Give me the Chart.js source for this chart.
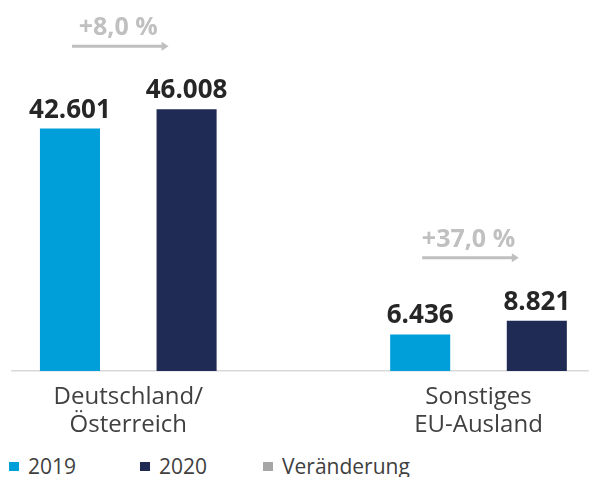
<!DOCTYPE html>
<html>
<head>
<meta charset="utf-8">
<script src="https://cdn.jsdelivr.net/npm/chart.js@4"></script>
<style>
  body { margin: 0; background: #fff; }
  #wrap { position: relative; width: 589px; height: 477px; }
  #chart { position: absolute; left: 0; top: 0; }
  #legend { position: absolute; left: 9px; top: 454px; display: flex;
            font: 21px "Open Sans", sans-serif; line-height: 24px; color: #404040; }
  #legend .item { display: flex; align-items: center; }
  #legend .item:nth-child(1) { width: 131px; }
  #legend .item:nth-child(2) { width: 123px; }
  #legend .box { width: 10px; height: 9px; margin-right: 9px; margin-top: 1px; }
</style>
</head>
<body>
<div id="wrap">
  <canvas id="chart" width="589" height="451"></canvas>
  <div id="legend"></div>
</div>
<script>
// data
const categories = [['Deutschland/', 'Österreich'], ['Sonstiges', 'EU-Ausland']];
const seriesNames = ['2019', '2020'];
const values2019 = [42601, 6436];
const values2020 = [46008, 8821];
const changeLabels = ['+8,0 %', '+37,0 %'];
const changeName = 'Veränderung';

const colors = ['#009fda', '#202b55'];
const changeColor = '#a6a6a6';

function formatNumber(v) {
    return String(v).replace(/\B(?=(\d{3})+(?!\d))/g, '.');
}

function toPoints(values) {
    return values.map((v, i) => ({ x: i, y: v }));
}

// value labels above bars + change arrows between the two years
const barLabels = {
    id: 'barLabels',
    afterDatasetsDraw(chart) {
        const ctx = chart.ctx;
        ctx.save();
        ctx.textAlign = 'center';
        ctx.textBaseline = 'alphabetic';
        ctx.font = 'bold 26px "Open Sans"';
        ctx.fillStyle = '#262626';
        chart.data.datasets.forEach((ds, di) => {
            const meta = chart.getDatasetMeta(di);
            meta.data.forEach((bar, i) => {
                ctx.fillText(formatNumber(ds.data[i].y), bar.x, bar.y - 11);
            });
        });

        const first = chart.getDatasetMeta(0).data;
        const second = chart.getDatasetMeta(1).data;
        changeLabels.forEach((label, i) => {
            const a = first[i], b = second[i];
            const y = Math.min(a.y, b.y) - 63;
            const x0 = a.x + 2;
            const x1 = b.x - 18;
            ctx.strokeStyle = '#bfbfbf';
            ctx.fillStyle = '#bfbfbf';
            ctx.lineWidth = 3;
            ctx.beginPath();
            ctx.moveTo(x0, y);
            ctx.lineTo(x1 - 5, y);
            ctx.stroke();
            ctx.beginPath();
            ctx.moveTo(x1, y);
            ctx.lineTo(x1 - 7, y - 4.5);
            ctx.lineTo(x1 - 7, y + 4.5);
            ctx.closePath();
            ctx.fill();
            ctx.font = 'bold 25px "Open Sans"';
            ctx.fillStyle = '#c0c0c0';
            ctx.fillText(label, (x0 + x1) / 2 - 2, y - 11);
        });
        ctx.restore();
    }
};

const chart = new Chart(document.getElementById('chart').getContext('2d'), {
    type: 'bar',
    data: {
        datasets: [
            { label: seriesNames[0], data: toPoints(values2019), backgroundColor: colors[0] },
            { label: seriesNames[1], data: toPoints(values2020), backgroundColor: colors[1] }
        ]
    },
    options: {
        responsive: false,
        animation: false,
        categoryPercentage: 0.666,
        barPercentage: 0.515,
        layout: { padding: { top: 41, left: 12, right: 0, bottom: 0 } },
        plugins: {
            legend: { display: false },
            tooltip: { enabled: false }
        },
        scales: {
            x: {
                type: 'linear',
                offset: false,
                min: -0.332,
                max: 1.3155,
                afterBuildTicks: scale => {
                    scale.ticks = categories.map((c, i) => ({ value: i }));
                },
                grid: { display: false, drawTicks: false },
                border: { display: true, color: '#d9d9d9', width: 1.5 },
                ticks: {
                    padding: 12,
                    color: '#404040',
                    font: { family: 'Open Sans', size: 24, lineHeight: '28px' },
                    maxRotation: 0,
                    autoSkip: false,
                    callback: value => categories[value]
                }
            },
            y: {
                display: false,
                min: 0,
                max: 58000
            }
        }
    },
    plugins: [barLabels]
});

// legend built from the datasets
const legend = document.getElementById('legend');
const items = chart.data.datasets.map(ds => ({ text: ds.label, color: ds.backgroundColor }));
items.push({ text: changeName, color: changeColor });
items.forEach(it => {
    const item = document.createElement('div');
    item.className = 'item';
    const box = document.createElement('span');
    box.className = 'box';
    box.style.background = it.color;
    const text = document.createElement('span');
    text.textContent = it.text;
    item.appendChild(box);
    item.appendChild(text);
    legend.appendChild(item);
});
</script>
</body>
</html>
